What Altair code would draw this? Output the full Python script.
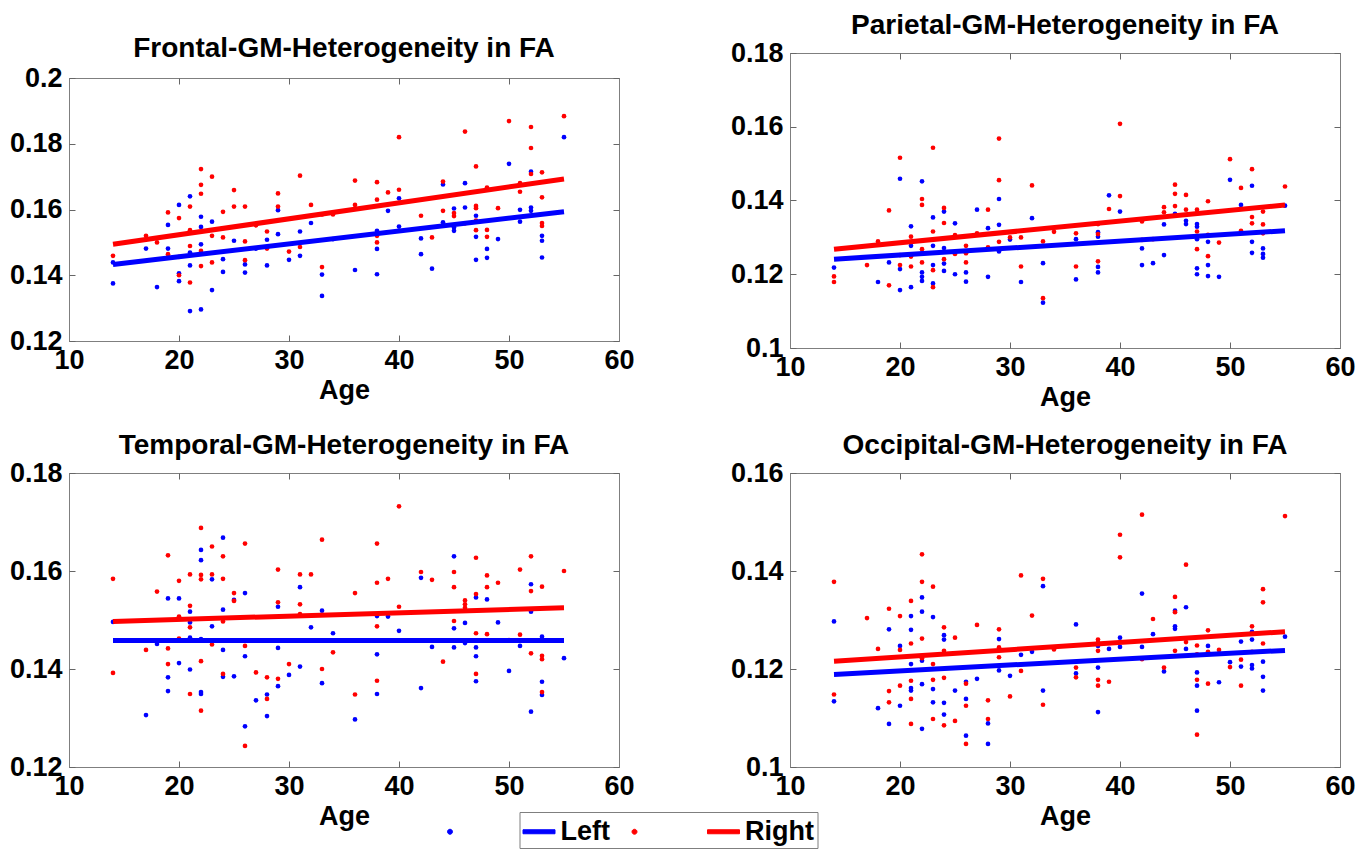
import altair as alt
import pandas as pd

FONT = "Liberation Sans"
BLUE = "#0000ff"
RED = "#ff0000"
FRAME = "#7f7f7f"
TICK = "#666666"
SIDES = ["Left", "Right"]
SIDE_COLORS = [BLUE, RED]
X_TICKS = [10, 20, 30, 40, 50, 60]
FIT_AGE = [14, 55]

# ---------------- Frontal ----------------
frontal_left = {
    14: [0.1439, 0.1375], 17: [0.1481], 18: [0.1364], 19: [0.1553, 0.1481],
    20: [0.1614, 0.1406, 0.1382], 21: [0.164, 0.1469, 0.143, 0.1291],
    22: [0.1578, 0.1547, 0.1494, 0.1296], 23: [0.1563, 0.1355], 24: [0.1449, 0.141],
    25: [0.1505], 26: [0.1433, 0.1408], 27: [0.1481], 28: [0.1508, 0.143],
    29: [0.1598, 0.1525], 30: [0.1447], 31: [0.1533, 0.1459], 32: [0.1559],
    33: [0.1402, 0.1337], 34: [0.151], 36: [0.1416], 38: [0.1535, 0.148, 0.1403],
    39: [0.1596], 40: [0.1634, 0.1548], 42: [0.1512, 0.1464], 43: [0.142],
    44: [0.1676, 0.1561], 45: [0.1603, 0.1545, 0.1535], 46: [0.168, 0.1606],
    47: [0.1581, 0.1517, 0.1447], 48: [0.148, 0.1453], 49: [0.151], 50: [0.1739],
    51: [0.1599, 0.1563], 52: [0.1715, 0.1606, 0.1596], 53: [0.152, 0.1505, 0.1454],
    55: [0.182],
}
frontal_right = {
    14: [0.1459], 17: [0.152], 18: [0.150], 19: [0.1591, 0.1464],
    20: [0.1574, 0.1456, 0.140], 21: [0.1609, 0.1537, 0.1489, 0.1378],
    22: [0.1723, 0.1675, 0.1648, 0.1474, 0.1428], 23: [0.170, 0.152, 0.1439],
    24: [0.1593, 0.1515], 25: [0.1659, 0.1609], 26: [0.1609, 0.1503, 0.1446],
    27: [0.1552], 28: [0.1533, 0.1481], 29: [0.1649, 0.1609], 30: [0.1472],
    31: [0.1703, 0.1486], 32: [0.1614], 33: [0.1585, 0.1425], 34: [0.1585],
    36: [0.1688, 0.1614], 38: [0.1683, 0.163, 0.152, 0.150], 39: [0.1652],
    40: [0.182, 0.166], 42: [0.1581], 43: [0.1515], 44: [0.1685, 0.1596],
    45: [0.1589, 0.158], 46: [0.1837, 0.1558], 47: [0.1731, 0.1611, 0.1604, 0.1566, 0.1537],
    48: [0.1667, 0.1538, 0.1517], 49: [0.1604], 50: [0.1869], 51: [0.168, 0.1654],
    52: [0.1851, 0.1787, 0.1708], 53: [0.1713, 0.1637, 0.1559, 0.155], 55: [0.1884],
}
frontal_left_fit = [0.1433, 0.1593]
frontal_right_fit = [0.1494, 0.1693]
frontal_y_ticks = [0.12, 0.14, 0.16, 0.18, 0.2]

# ---------------- Parietal ----------------
parietal_left = {
    14: [0.1218], 18: [0.1179], 19: [0.1232], 20: [0.1459, 0.1214, 0.1157],
    21: [0.133, 0.1277, 0.1165], 22: [0.1452, 0.1257, 0.1205, 0.1193, 0.1182],
    23: [0.1354, 0.1277, 0.1225, 0.1175], 24: [0.137, 0.1271, 0.1229, 0.1209],
    25: [0.1338, 0.12], 26: [0.1205, 0.118], 27: [0.1375], 28: [0.1325, 0.1193],
    29: [0.1404, 0.1334, 0.1262], 30: [0.1294], 31: [0.1179], 32: [0.1352],
    33: [0.123, 0.1123], 36: [0.1295, 0.1186], 38: [0.1314, 0.1302, 0.122, 0.1205],
    39: [0.1414], 40: [0.137], 42: [0.127, 0.1225], 43: [0.123], 44: [0.1335, 0.1252],
    45: [0.1364], 46: [0.1345, 0.1336], 47: [0.1336, 0.1329, 0.1295, 0.1216, 0.12],
    48: [0.1288, 0.1225, 0.1195], 49: [0.1193], 50: [0.1456], 51: [0.1388],
    52: [0.144, 0.1288, 0.1258], 53: [0.127, 0.1255, 0.1245], 55: [0.1386],
}
parietal_right = {
    14: [0.1194, 0.1179], 17: [0.1225], 18: [0.1289], 19: [0.1373, 0.117],
    20: [0.1516, 0.1252, 0.1225], 21: [0.1302, 0.1248, 0.1221],
    22: [0.1404, 0.1388, 0.1268, 0.1232], 23: [0.1543, 0.1316, 0.1211, 0.1165],
    24: [0.138, 0.1339, 0.1241], 25: [0.1306, 0.1255], 26: [0.1277, 0.1257, 0.1232],
    27: [0.1311], 28: [0.1375, 0.1273], 29: [0.1568, 0.1455, 0.1288], 30: [0.130],
    31: [0.130, 0.1221], 32: [0.1441], 33: [0.1289, 0.1135], 34: [0.1315],
    36: [0.1311, 0.1221], 38: [0.1336, 0.1309, 0.1235], 39: [0.1377],
    40: [0.1608, 0.1412], 42: [0.1343, 0.1293], 43: [0.1295], 44: [0.1382, 0.1368],
    45: [0.1443, 0.1418, 0.1385], 46: [0.1415, 0.1375], 47: [0.1375, 0.1366, 0.1316, 0.1268],
    48: [0.1398, 0.1307, 0.1249], 49: [0.1286], 50: [0.1512], 51: [0.1434, 0.1318],
    52: [0.1485, 0.1355, 0.1338], 53: [0.137, 0.1335, 0.1311], 55: [0.1438],
}
parietal_left_fit = [0.1241, 0.1318]
parietal_right_fit = [0.1268, 0.1388]
parietal_y_ticks = [0.1, 0.12, 0.14, 0.16, 0.18]

# ---------------- Temporal ----------------
temporal_left = {
    14: [0.1496], 17: [0.1306], 18: [0.1451], 19: [0.1544, 0.1383, 0.1355],
    20: [0.1544, 0.1412], 21: [0.1517, 0.1495, 0.1464, 0.1399],
    22: [0.1643, 0.1622, 0.1461, 0.1353, 0.1349], 23: [0.1583, 0.1487],
    24: [0.1668, 0.1521, 0.1439, 0.1384], 25: [0.1541, 0.1385], 26: [0.1555, 0.1426, 0.1283],
    27: [0.1336], 28: [0.1348, 0.1304], 29: [0.1527, 0.1443, 0.1365], 30: [0.1388],
    31: [0.1567, 0.1405], 32: [0.1485], 33: [0.1519, 0.1371], 34: [0.1473], 36: [0.1297],
    38: [0.1508, 0.143, 0.1349], 39: [0.1507], 40: [0.1478], 42: [0.1586, 0.1361],
    43: [0.1445], 45: [0.163, 0.1483, 0.1444], 46: [0.1494, 0.1453],
    47: [0.1546, 0.1444, 0.1426, 0.1375], 48: [0.1542], 49: [0.1495], 50: [0.1396],
    51: [0.1447], 52: [0.1573, 0.1517, 0.1313], 53: [0.1466, 0.1374, 0.1347], 55: [0.1422],
}
temporal_right = {
    14: [0.1584, 0.1392], 17: [0.1439], 18: [0.1558], 19: [0.1632, 0.1442, 0.141],
    20: [0.158, 0.1507, 0.1462], 21: [0.1593, 0.1529, 0.1485, 0.1349],
    22: [0.1688, 0.1592, 0.1583, 0.1416, 0.1315], 23: [0.165, 0.1593, 0.1458, 0.145],
    24: [0.163, 0.1584, 0.1497, 0.139], 25: [0.1555, 0.1539], 26: [0.1656, 0.1447, 0.1243],
    27: [0.1393], 28: [0.1383, 0.1339], 29: [0.1603, 0.1536, 0.138], 30: [0.141],
    31: [0.1593, 0.1532, 0.1512], 32: [0.1593], 33: [0.1664, 0.14], 34: [0.1434],
    36: [0.1555, 0.1348], 38: [0.1656, 0.1576, 0.1487, 0.1376], 39: [0.1584],
    40: [0.1732, 0.1527], 42: [0.1598], 43: [0.1582], 44: [0.1458, 0.1415],
    45: [0.1598, 0.1567, 0.1498], 46: [0.154, 0.1532, 0.1525],
    47: [0.1627, 0.1553, 0.1473, 0.139], 48: [0.1591, 0.1567, 0.1471], 49: [0.1576],
    50: [0.1459], 51: [0.1603, 0.147], 52: [0.163, 0.1559, 0.1432],
    53: [0.1568, 0.1427, 0.142, 0.1353], 55: [0.16],
}
temporal_left_fit = [0.1458, 0.1458]
temporal_right_fit = [0.1497, 0.1525]
temporal_y_ticks = [0.12, 0.14, 0.16, 0.18]

# ---------------- Occipital ----------------
occipital_left = {
    14: [0.1297, 0.1134], 18: [0.112], 19: [0.1281, 0.1088], 20: [0.1247, 0.1125],
    21: [0.1308, 0.128, 0.121, 0.1161, 0.1156], 22: [0.1346, 0.1317, 0.1217, 0.1169, 0.1078],
    23: [0.1306, 0.1159, 0.1132], 24: [0.1269, 0.126, 0.1131, 0.1107], 25: [0.1156],
    26: [0.1174, 0.1139, 0.1064], 27: [0.118], 28: [0.1089, 0.1047], 29: [0.1261, 0.1197],
    30: [0.1186], 31: [0.1229], 32: [0.1235], 33: [0.1369, 0.1156], 36: [0.1291, 0.1191],
    38: [0.1247, 0.1203, 0.1112], 39: [0.1241], 40: [0.1264, 0.1245], 42: [0.1354, 0.1245],
    43: [0.1271], 44: [0.1195], 45: [0.1319, 0.1287, 0.1282], 46: [0.1326, 0.1241],
    47: [0.1193, 0.1166, 0.1115], 48: [0.1247], 49: [0.1173], 50: [0.1214],
    51: [0.1256, 0.1205], 52: [0.1276, 0.126, 0.1208, 0.1201], 53: [0.1215, 0.1184, 0.1156],
    55: [0.1266],
}
occipital_right = {
    14: [0.1378, 0.1148], 17: [0.1304], 18: [0.1241], 19: [0.1323, 0.1155, 0.1132],
    20: [0.1308, 0.1239, 0.1166], 21: [0.1339, 0.1252, 0.1176, 0.1139, 0.1088],
    22: [0.1434, 0.1378, 0.1262, 0.1222], 23: [0.1368, 0.121, 0.1178, 0.1098],
    24: [0.1285, 0.1237, 0.1182, 0.1085], 25: [0.1264, 0.1094], 26: [0.117, 0.1125, 0.1047],
    27: [0.129], 28: [0.1136, 0.1098], 29: [0.1281, 0.1244, 0.1224], 30: [0.1144],
    31: [0.1391, 0.1196], 32: [0.1309], 33: [0.1384, 0.1127], 34: [0.124],
    36: [0.1203, 0.1183], 38: [0.126, 0.1254, 0.1237, 0.1178, 0.1166], 39: [0.1174],
    40: [0.1474, 0.1428], 42: [0.1515, 0.122], 43: [0.1302], 44: [0.1203],
    45: [0.1347, 0.1316, 0.1237], 46: [0.1413, 0.1255], 47: [0.1248, 0.123, 0.1178, 0.1066],
    48: [0.1279, 0.1235, 0.117], 49: [0.1239], 50: [0.1204], 51: [0.1219, 0.1166],
    52: [0.1287, 0.1235], 53: [0.1363, 0.1336, 0.1252], 55: [0.1512],
}
occipital_left_fit = [0.1189, 0.1238]
occipital_right_fit = [0.1216, 0.1276]
occipital_y_ticks = [0.1, 0.12, 0.14, 0.16]


def flatten(d, side):
    return pd.DataFrame([{"age": a, "fa": v, "side": side}
                         for a, vals in d.items() for v in vals])


LAB = dict(labelFont=FONT, labelFontSize=27, labelFontWeight="bold", labelColor="black",
           labelFlush=False, labelOverlap=False)

# legend symbol (MATLAB style): a small dot, a gap, then a short thick line
LEGEND_SYMBOL = ("M-5.71875,0 A0.15625,0.15625 0 1,1 -5.40625,0 "
                 "A0.15625,0.15625 0 1,1 -5.71875,0 Z "
                 "M-1,-0.125 L1,-0.125 L1,0.125 L-1,0.125 Z")
LEGEND = alt.Legend(
    orient="none", legendX=450.5, legendY=759, direction="horizontal", title=None,
    labelFont=FONT, labelFontSize=27, labelFontWeight="bold", labelColor="black",
    labelOffset=5, columnPadding=19.5, padding=3, strokeColor=FRAME,
    symbolType=LEGEND_SYMBOL, symbolSize=1024, symbolStrokeWidth=1, symbolOpacity=1,
    labelLimit=300,
)
COLOR = alt.Color("side:N", scale=alt.Scale(domain=SIDES, range=SIDE_COLORS), legend=LEGEND)


def make_panel(title, left, right, left_fit, right_fit, y_ticks, h, top_gap=0):
    w = 550
    xs = alt.Scale(domain=[X_TICKS[0], X_TICKS[-1]], nice=False, zero=False)
    if top_gap:
        ys = alt.Scale(domain=[y_ticks[0], y_ticks[-1]], nice=False, zero=False,
                       range=[h + top_gap, top_gap])
    else:
        ys = alt.Scale(domain=[y_ticks[0], y_ticks[-1]], nice=False, zero=False)

    # axes: frame lines (domain) + labels, and inward tick marks
    x_main = alt.Axis(orient="bottom", values=X_TICKS, title="Age", domain=True,
                      domainColor=FRAME, domainWidth=1, ticks=False, tickSize=0, grid=False,
                      labelPadding=6, titleFont=FONT, titleFontSize=27,
                      titleFontWeight="bold", titleColor="black", titlePadding=4, **LAB)
    y_main = alt.Axis(orient="left", values=y_ticks, title=None, format=".2~f", domain=True,
                      domainColor=FRAME, domainWidth=1, ticks=False, tickSize=0, grid=False,
                      labelPadding=7, **LAB)
    x_bt = alt.Axis(orient="bottom", values=X_TICKS, title=None, labels=False, domain=False,
                    ticks=True, tickSize=6, tickColor=TICK, offset=-6, grid=False)
    y_lt = alt.Axis(orient="left", values=y_ticks, title=None, labels=False, domain=False,
                    ticks=True, tickSize=6, tickColor=TICK, offset=-6, grid=False)
    x_top = alt.Axis(orient="top", values=X_TICKS, title=None, labels=False, domain=True,
                     domainColor=FRAME, domainWidth=1, ticks=False, tickSize=0,
                     offset=-top_gap, grid=False)
    y_right = alt.Axis(orient="right", values=y_ticks, title=None, labels=False, domain=True,
                       domainColor=FRAME, domainWidth=1, ticks=False, tickSize=0, grid=False)
    x_tt = alt.Axis(orient="top", values=X_TICKS, title=None, labels=False, domain=False,
                    ticks=True, tickSize=6, tickColor=TICK, offset=-(top_gap + 6), grid=False)
    y_rt = alt.Axis(orient="right", values=y_ticks, title=None, labels=False, domain=False,
                    ticks=True, tickSize=6, tickColor=TICK, offset=-6, grid=False)

    fit_l = pd.DataFrame({"age": FIT_AGE, "fa": left_fit, "side": "Left"})
    fit_r = pd.DataFrame({"age": FIT_AGE, "fa": right_fit, "side": "Right"})

    def enc(ch, xa, ya):
        return ch.encode(x=alt.X("age:Q", scale=xs, axis=xa),
                         y=alt.Y("fa:Q", scale=ys, axis=ya), color=COLOR)

    l1 = enc(alt.Chart(flatten(left, "Left")).mark_circle(size=22, opacity=1), x_main, y_main)
    l2 = enc(alt.Chart(flatten(right, "Right")).mark_circle(size=22, opacity=1), x_bt, y_lt)
    l3 = enc(alt.Chart(fit_l).mark_line(strokeWidth=5), x_top, y_right)
    l4 = enc(alt.Chart(fit_r).mark_line(strokeWidth=5), x_tt, y_rt)

    tp = alt.TitleParams(text=title, font=FONT, fontSize=28, fontWeight="bold",
                         color="black", anchor="middle",
                         offset=(13.5 - top_gap + 2) if top_gap else -1)
    return alt.layer(l1, l2, l3, l4).resolve_axis(x="independent", y="independent").properties(
        width=w, height=h + top_gap, title=tp,
        view=alt.ViewBackground(stroke="transparent"))


tl = make_panel("Frontal-GM-Heterogeneity in FA", frontal_left, frontal_right,
                frontal_left_fit, frontal_right_fit, frontal_y_ticks, 263, top_gap=25)
tr = make_panel("Parietal-GM-Heterogeneity in FA", parietal_left, parietal_right,
                parietal_left_fit, parietal_right_fit, parietal_y_ticks, 295)
bl = make_panel("Temporal-GM-Heterogeneity in FA", temporal_left, temporal_right,
                temporal_left_fit, temporal_right_fit, temporal_y_ticks, 294)
br = make_panel("Occipital-GM-Heterogeneity in FA", occipital_left, occipital_right,
                occipital_left_fit, occipital_right_fit, occipital_y_ticks, 294)

chart = alt.concat(tl, tr, bl, br, columns=2, align="none",
                   spacing={"row": 20, "column": 94}).properties(
    padding={"left": 0, "top": 3, "right": 5, "bottom": 0}
).configure_view(stroke="transparent").configure(background="white")

chart.save("out.html", embed_options={"renderer": "svg", "actions": False})
